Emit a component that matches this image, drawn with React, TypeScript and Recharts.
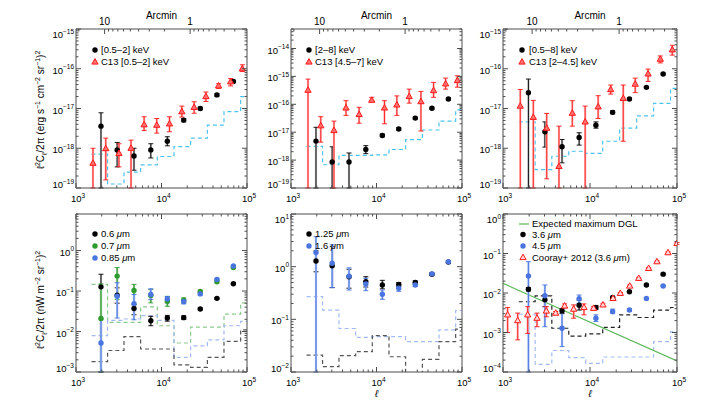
import React from 'react';
import { ComposedChart, Scatter, Line, XAxis, YAxis, ErrorBar } from 'recharts';

const FONT = '"Liberation Sans", Arial, Helvetica, sans-serif';
const FRAME = '#4d4d4d';
const CYAN = '#4cc3ec';
const RED = '#ff1a1a';
const PINK = '#ffb0b0';
const GREEN = '#2f9b2f';
const GREEN_LIGHT = '#8cc98c';
const BLUE = '#4a74e0';
const BLUE_LIGHT = '#a3bbf3';
const GRAY_LIGHT = '#bdbdbd';
const GRAY_DASH = '#555555';
const DGL_GREEN = '#5cb85c';

// ---------- multipole bins ----------
const ELL_BIN = [1960, 3030, 4770, 7500, 11700, 18200, 28400, 44500, 69300];
const ELL_C13 = [1580, 2230, 3180, 4400, 6260, 8800, 12400, 17300, 24100, 33100, 46500, 64300, 88300];
const ELL_COORAY = [1130, 1475, 1920, 2460, 3150, 4030, 5110, 6490, 8530, 11000, 14100, 18400, 22300, 28600, 36300, 47200, 58900, 78800, 100000];
const STEP_EDGES = [1520, 2340, 3640, 5700, 8930, 14000, 21900, 34400, 53800, 84300, 100000];
const ARCMIN_TICKS = [20, 10, 9, 8, 7, 6, 5, 4, 3, 2, 1, 0.9, 0.8, 0.7, 0.6, 0.5, 0.4, 0.3];
const ARCMIN_LABELS = [10, 1];

// ---------- panel 1: [0.5-2] keV ----------
const SOFT_VAL = [3.6e-18, 9.1e-19, 6.4e-19, 9.1e-19, 1.5e-18, 5.1e-18, 1.0e-17, 2.2e-17, 4.8e-17];
const SOFT_LO = [0, 3.4e-19, 2.8e-19, 5.7e-19, 1.15e-18, 4.6e-18, 9.3e-18, 2.05e-17, 4.5e-17];
const SOFT_HI = [7.8e-18, 1.4e-18, 1.0e-18, 1.3e-18, 1.95e-18, 5.6e-18, 1.08e-17, 2.35e-17, 5.1e-17];
const C13_SOFT_VAL = [4.2e-19, 9.8e-19, 7.4e-19, 1.0e-18, 3.9e-18, 3.8e-18, 4.1e-18, 8.3e-18, 1.07e-17, 2.0e-17, 3.7e-17, 4.7e-17, 1.0e-16];
const C13_SOFT_LO = [0, 1.6e-19, 3.4e-19, 1.0e-19, 2.8e-18, 2.4e-18, 2.6e-18, 6.1e-18, 7.6e-18, 1.5e-17, 3.2e-17, 3.7e-17, 8.5e-17];
const C13_SOFT_HI = [1.0e-18, 1.8e-18, 1.3e-18, 1.6e-18, 6.2e-18, 5.6e-18, 6.2e-18, 1.15e-17, 1.48e-17, 2.6e-17, 4.2e-17, 5.7e-17, 1.26e-16];
const SOFT_NOISE = [7.1e-19, 1.26e-19, 2.5e-19, 3.8e-19, 6.2e-19, 1.1e-18, 1.8e-18, 3.8e-18, 8.3e-18, 2.0e-17];

// ---------- panel 2: [2-8] keV ----------
const HARD_VAL = [4.8e-18, 8.5e-19, 8.5e-19, 2.4e-18, 7.6e-18, 1.3e-17, 3.2e-17, 7.2e-17, 1.55e-16];
const HARD_LO = [0, 0, 0, 1.7e-18, 6.8e-18, 1.18e-17, 2.9e-17, 6.6e-17, 1.42e-16];
const HARD_HI = [1.5e-17, 3e-18, 1.8e-18, 3.3e-18, 8.6e-18, 1.45e-17, 3.5e-17, 7.9e-17, 1.7e-16];
const C13_HARD_VAL = [3.2e-16, 1.7e-17, 1.15e-17, 7.4e-17, 4.3e-17, 1.4e-16, 7.4e-17, 9.5e-17, 1.9e-16, 1.25e-16, 3.1e-16, 5.4e-16, 7.1e-16];
const C13_HARD_LO = [0, 4.4e-18, 0, 4e-17, 2.1e-17, 1.24e-16, 2e-17, 4e-17, 1.1e-16, 1.1e-17, 1.78e-16, 3.5e-16, 4.1e-16];
const C13_HARD_HI = [8e-16, 3.6e-17, 2.5e-17, 1.35e-16, 7.8e-17, 1.78e-16, 1.35e-16, 2.0e-16, 3.5e-16, 2.9e-16, 6.1e-16, 8.7e-16, 1.05e-15];
const HARD_NOISE = [3.1e-18, 6.8e-19, 1.48e-18, 1.48e-18, 1.55e-18, 2.4e-18, 5.4e-18, 1.2e-17, 2.5e-17, 6.3e-17];

// ---------- panel 3: [0.5-8] keV ----------
const BROAD_VAL = [2.5e-17, 2.6e-18, 1.09e-18, 1.87e-18, 3.8e-18, 8.0e-18, 1.74e-17, 3.4e-17, 7.4e-17];
const BROAD_LO = [0, 1.07e-18, 4.3e-19, 1.2e-18, 3.2e-18, 7.3e-18, 1.63e-17, 3.2e-17, 7.0e-17];
const BROAD_HI = [5.5e-17, 4.6e-18, 1.66e-18, 2.45e-18, 4.6e-18, 8.8e-18, 1.86e-17, 3.6e-17, 7.8e-17];
const C13_MID_VAL = [1.15e-17, 6e-18, 3.2e-18, 3.5e-19, 7.6e-18, 4.6e-18, 1.1e-17, 3.0e-17, 1.8e-17, 4.1e-17, 7.4e-17, 1.74e-16, 3.0e-16];
const C13_MID_LO = [0, 0, 1.7e-19, 0, 3.6e-18, 0, 5.6e-18, 2.3e-17, 1.5e-18, 2.5e-17, 4.8e-17, 1.4e-16, 2.2e-16];
const C13_MID_HI = [3e-17, 1.6e-17, 7.5e-18, 3.6e-18, 1.57e-17, 1.15e-17, 2.1e-17, 3.9e-17, 3.9e-17, 5.8e-17, 9.8e-17, 2.1e-16, 3.9e-16];
const BROAD_NOISE = [4.6e-18, 2.9e-19, 6.3e-19, 8.4e-19, 7.4e-19, 1.5e-18, 3.2e-18, 6.5e-18, 1.35e-17, 3.2e-17];

// ---------- panel 4: optical ----------
const OPT06_VAL = [0.127, 0.079, 0.037, 0.0185, 0.0216, 0.022, 0.036, 0.066, 0.151];
const OPT06_LO = [0, 0.05, 0.026, 0.0139, 0.018, 0.02, 0.034, 0.063, 0.145];
const OPT06_HI = [0.26, 0.12, 0.046, 0.0237, 0.025, 0.0245, 0.038, 0.069, 0.157];
const OPT07_VAL = [0.021, 0.234, 0.103, 0.078, 0.056, 0.059, 0.097, 0.17, 0.38];
const OPT07_LO = [0, 0.062, 0.046, 0.051, 0.042, 0.05, 0.09, 0.16, 0.36];
const OPT07_HI = [0.15, 0.38, 0.146, 0.109, 0.074, 0.068, 0.104, 0.18, 0.4];
const OPT085_VAL = [0.0052, 0.0745, 0.049, 0.082, 0.064, 0.055, 0.085, 0.194, 0.414];
const OPT085_LO = [0, 0.0215, 0.0195, 0.0615, 0.051, 0.048, 0.079, 0.185, 0.4];
const OPT085_HI = [0.0195, 0.16, 0.082, 0.114, 0.073, 0.062, 0.091, 0.203, 0.43];
const OPT06_NOISE = [0.0018, 0.0034, 0.0075, 0.0037, 0.0037, 0.0015, 0.0013, 0.0023, 0.0057, 0.011];
const OPT07_NOISE = [0.146, 0.0168, 0.0168, 0.0406, 0.0139, 0.0052, 0.0129, 0.0129, 0.027, 0.051];
const OPT085_NOISE = [0.0079, 0.0188, 0.0204, 0.0247, 0.0188, 0.0023, 0.0044, 0.0062, 0.0139, 0.0178];

// ---------- panel 5: near-IR ----------
const NIR125_VAL = [1.28, 1.04, 0.645, 0.52, 0.45, 0.46, 0.5, 0.72, 1.22];
const NIR125_LO = [0.8, 0.4, 0.39, 0.41, 0.38, 0.42, 0.46, 0.69, 1.17];
const NIR125_HI = [2.0, 2.4, 0.89, 0.645, 0.55, 0.5, 0.54, 0.76, 1.28];
const NIR16_VAL = [1.85, 1.16, 0.66, 0.47, 0.3, 0.39, 0.45, 0.73, 1.24];
const NIR16_LO = [0, 0.4, 0.36, 0.35, 0.24, 0.34, 0.42, 0.7, 1.2];
const NIR16_HI = [3.7, 2.6, 0.95, 0.6, 0.36, 0.45, 0.49, 0.76, 1.28];
const NIR125_NOISE = [0.021, 0.0126, 0.0204, 0.0243, 0.049, 0.0195, 0.005, 0.0174, 0.0377, 0.065];
const NIR16_NOISE = [0.27, 0.15, 0.067, 0.0455, 0.047, 0.047, 0.0377, 0.0377, 0.063, 0.147];

// ---------- panel 6: IRAC ----------
const IRAC36_VAL = [0.0124, 0.0067, 0.0035, 0.0049, 0.0043, 0.0077, 0.0108, 0.016, 0.030];
const IRAC36_LO = [0.0112, 0.0045, 0.003, 0.0037, 0.0038, 0.0072, 0.0102, 0.0152, 0.0287];
const IRAC36_HI = [0.0137, 0.0089, 0.004, 0.0066, 0.0048, 0.0082, 0.0114, 0.0168, 0.0315];
const IRAC45_VAL = [0.027, 0.0085, 0.00128, 0.0072, 0.0023, 0.0034, 0.0037, 0.0073, 0.015];
const IRAC45_LO = [0, 0.0014, 0.00044, 0.0055, 0.0019, 0.003, 0.0034, 0.007, 0.0145];
const IRAC45_HI = [0.062, 0.016, 0.0037, 0.0089, 0.0028, 0.0039, 0.004, 0.0076, 0.0155];
const COORAY_VAL = [0.0028, 0.002, 0.0028, 0.0023, 0.0035, 0.0031, 0.0047, 0.0039, 0.0043, 0.0041, 0.005, 0.0073, 0.0098, 0.015, 0.0235, 0.042, 0.062, 0.105, 0.18];
const COORAY_LO = [0.001, 0.00065, 0.00095, 0.0014, 0.0025, 0.0028, 0.0042, 0.0023, 0.0028, 0.0037, 0.0046, 0.0069, 0.0093, 0.0143, 0.0224, 0.04, 0.059, 0.1, 0.17];
const COORAY_HI = [0.0043, 0.0031, 0.0045, 0.0031, 0.0045, 0.0034, 0.0053, 0.005, 0.0053, 0.0045, 0.0055, 0.0077, 0.0103, 0.0158, 0.0246, 0.044, 0.065, 0.11, 0.19];
const DGL_ELL = [1000, 100000];
const DGL_VAL = [0.0176, 0.00019];
const IRAC36_NOISE = [0.006, 0.0085, 0.00128, 0.00081, 0.00092, 0.00135, 0.0028, 0.0024, 0.0037, 0.0043];
const IRAC45_NOISE = [0.0029, 0.000156, 0.00035, 0.00023, 0.000165, 0.00024, 0.00024, 0.00024, 0.00059, 0.00105];

// ---------- helpers ----------
function pts(ell: number[], val: number[], lo: number[], hi: number[], dmin: number) {
  return ell.map((x, i) => {
    const y = val[i];
    const l = Math.max(lo[i], dmin);
    return { x, y, e: [Math.max(y - l, 0), Math.max(hi[i] - y, 0)] };
  });
}
function steps(vals: number[]) {
  return STEP_EDGES.map((x, i) => ({ x, y: vals[Math.min(i, vals.length - 1)] }));
}
function line(ell: number[], vals: number[]) {
  return ell.map((x, i) => ({ x, y: vals[i] }));
}
function logTicks(min: number, max: number) {
  const out: number[] = [];
  const k0 = Math.floor(Math.log10(min) + 1e-9);
  const k1 = Math.ceil(Math.log10(max) - 1e-9);
  for (let k = k0; k <= k1; k++) {
    for (let m = 1; m <= 9; m++) {
      const v = Number(`${m}e${k}`);
      if (v >= min * (1 - 1e-9) && v <= max * (1 + 1e-9)) out.push(v);
    }
  }
  return out;
}
function isPow10(v: number) {
  const l = Math.log10(v);
  return Math.abs(l - Math.round(l)) < 1e-6;
}
function expStr(v: number) {
  const k = Math.round(Math.log10(v));
  return k < 0 ? '\u2212' + Math.abs(k) : String(k);
}

const dotShape = (color: string, r = 2.7) => (p: any) =>
  p.cx == null ? <g /> : <circle cx={p.cx} cy={p.cy} r={r} fill={color} />;
const triPath = (cx: number, cy: number, s = 3.4) =>
  `M${cx},${cy - s} L${cx + s * 0.92},${cy + s * 0.62} L${cx - s * 0.92},${cy + s * 0.62} Z`;
const triShape = (stroke: string, fill: string) => (p: any) =>
  p.cx == null ? <g /> : <path d={triPath(p.cx, p.cy)} fill={fill} stroke={stroke} strokeWidth={1} />;

function stepLine(key: string, vals: number[], color: string) {
  return (
    <Line
      key={key}
      data={steps(vals)}
      dataKey="y"
      type="stepAfter"
      stroke={color}
      strokeWidth={1.2}
      strokeDasharray="4 3"
      dot={false}
      activeDot={false}
      isAnimationActive={false}
      xAxisId="b"
      yAxisId="l"
    />
  );
}
function pointSeries(key: string, data: any[], shape: any, dark: string, light: string) {
  return (
    <Scatter key={key} data={data} xAxisId="b" yAxisId="l" shape={shape} isAnimationActive={false}>
      <ErrorBar dataKey="e" direction="y" width={0} stroke={light} strokeWidth={2.2} />
      <ErrorBar dataKey="e" direction="y" width={2.5} stroke={dark} strokeWidth={0.9} />
    </Scatter>
  );
}

const L = 62, R = 16, T = 26, B = 28;
const X_TICKS = logTicks(1e3, 1e5);

function Panel(props: {
  left: number; top: number; pw: number; ph: number; yMin: number; yMax: number;
  topAxis: 'arcmin' | 'mirror'; children: React.ReactNode;
}) {
  const { left, top, pw, ph, yMin, yMax, topAxis, children } = props;
  const W = L + pw + R, H = T + ph + B;
  const pL = L, pR = L + pw, pT = T, pB = T + ph;
  const yTicks = logTicks(yMin, yMax);
  const topTicks = topAxis === 'arcmin' ? ARCMIN_TICKS.map((t) => 21600 / t) : X_TICKS;

  const tickB = (p: any) => {
    const x = p.x; const v = p.payload.value; const maj = isPow10(v);
    return (
      <g>
        <line x1={x} x2={x} y1={pB} y2={pB - (maj ? 5 : 2.5)} stroke={FRAME} />
        {maj && (
          <text x={x - 5} y={pB + 14} fontSize={9.5} fill="#000" fontFamily={FONT}>
            10<tspan dy={-4.5} fontSize={6.5}>{expStr(v)}</tspan>
          </text>
        )}
      </g>
    );
  };
  const tickT = (p: any) => {
    const x = p.x; const v = p.payload.value;
    let maj = isPow10(v);
    let label: string | null = null;
    if (topAxis === 'arcmin') {
      const th = 21600 / v;
      maj = ARCMIN_LABELS.some((a) => Math.abs(a - th) < 1e-6);
      if (maj) label = String(Math.round(th));
    }
    return (
      <g>
        <line x1={x} x2={x} y1={pT} y2={pT + (maj ? 5 : 2.5)} stroke={FRAME} />
        {label && (
          <text x={x} y={pT - 4} textAnchor="middle" fontSize={10} fill="#000" fontFamily={FONT}>{label}</text>
        )}
      </g>
    );
  };
  const tickL = (p: any) => {
    const y = p.y; const v = p.payload.value; const maj = isPow10(v);
    const by = Math.min(Math.max(y + 5, pT + 9), pB);
    return (
      <g>
        <line x1={pL} x2={pL + (maj ? 5 : 2.5)} y1={y} y2={y} stroke={FRAME} />
        {maj && (
          <text x={pL - 2} y={by} textAnchor="end" fontSize={9.5} fill="#000" fontFamily={FONT}>
            10<tspan dy={-4.5} fontSize={6.5}>{expStr(v)}</tspan>
          </text>
        )}
      </g>
    );
  };
  const tickR = (p: any) => {
    const y = p.y; const v = p.payload.value; const maj = isPow10(v);
    return <line x1={pR} x2={pR - (maj ? 5 : 2.5)} y1={y} y2={y} stroke={FRAME} />;
  };

  return (
    <div style={{ position: 'absolute', left: left - L, top: top - T, width: W, height: H }}>
      <ComposedChart width={W} height={H} margin={{ top: 0, right: 0, bottom: 0, left: 0 }}>
        <XAxis xAxisId="b" type="number" dataKey="x" scale="log" domain={[1e3, 1e5]} allowDataOverflow
          ticks={X_TICKS} interval={0} tick={tickB} tickLine={false} axisLine={{ stroke: FRAME }} height={B} />
        <XAxis xAxisId="t" orientation="top" type="number" dataKey="x" scale="log" domain={[1e3, 1e5]} allowDataOverflow
          ticks={topTicks} interval={0} tick={tickT} tickLine={false} axisLine={{ stroke: FRAME }} height={T} />
        <YAxis yAxisId="l" type="number" dataKey="y" scale="log" domain={[yMin, yMax]} allowDataOverflow
          ticks={yTicks} interval={0} tick={tickL} tickLine={false} axisLine={{ stroke: FRAME }} width={L} />
        <YAxis yAxisId="r" orientation="right" type="number" dataKey="y" scale="log" domain={[yMin, yMax]} allowDataOverflow
          ticks={yTicks} interval={0} tick={tickR} tickLine={false} axisLine={{ stroke: FRAME }} width={R} />
        {children}
      </ComposedChart>
    </div>
  );
}

type Part = [string, 'n' | 'sup' | 'sub'];
function rich(parts: Part[], fs: number) {
  let cur = 0;
  return parts.map(([t, k], i) => {
    const target = k === 'sup' ? -0.42 * fs : k === 'sub' ? 0.28 * fs : 0;
    const dy = target - cur;
    cur = target;
    return (
      <tspan key={i} dy={dy} fontSize={k === 'n' ? fs : fs * 0.7}>{t}</tspan>
    );
  });
}

const Y_LABEL_TOP: Part[] = [
  ['\u2113', 'n'], ['2', 'sup'], ['C', 'n'], ['\u2113', 'sub'], ['/2\u03c0  (erg s', 'n'], ['\u22121', 'sup'],
  [' cm', 'n'], ['\u22122', 'sup'], [' sr', 'n'], ['\u22121', 'sup'], [')', 'n'], ['2', 'sup'],
];
const Y_LABEL_BOTTOM: Part[] = [
  ['\u2113', 'n'], ['2', 'sup'], ['C', 'n'], ['\u2113', 'sub'], ['/2\u03c0  (nW m', 'n'], ['\u22122', 'sup'],
  [' sr', 'n'], ['\u22121', 'sup'], [')', 'n'], ['2', 'sup'],
];

function LegDot({ x, y, c }: { x: number; y: number; c: string }) {
  return <circle cx={x} cy={y} r={2.7} fill={c} />;
}
function LegTri({ x, y, fill }: { x: number; y: number; fill: string }) {
  return <path d={triPath(x, y)} fill={fill} stroke={RED} strokeWidth={1} />;
}
function LegText({ x, y, children }: { x: number; y: number; children: React.ReactNode }) {
  return <text x={x} y={y + 3.3} fontSize={9.5} fill="#000" fontFamily={FONT}>{children}</text>;
}
const mu = <tspan fontStyle="italic">{'\u03bc'}</tspan>;

function Overlay() {
  return (
    <svg width={714} height={420} style={{ position: 'absolute', left: 0, top: 0, pointerEvents: 'none' }} fontFamily={FONT}>
      <text transform="translate(44,110) rotate(-90)" textAnchor="middle" fontSize={10} fill="#000">{rich(Y_LABEL_TOP, 10)}</text>
      <text transform="translate(44,300) rotate(-90)" textAnchor="middle" fontSize={10} fill="#000">{rich(Y_LABEL_BOTTOM, 10)}</text>
      <text x={161.5} y={18.5} textAnchor="middle" fontSize={10} fill="#000">Arcmin</text>
      <text x={376.5} y={18.5} textAnchor="middle" fontSize={10} fill="#000">Arcmin</text>
      <text x={590} y={18.5} textAnchor="middle" fontSize={10} fill="#000">Arcmin</text>
      <text x={376.5} y={397} textAnchor="middle" fontSize={10} fontStyle="italic" fill="#000">{'\u2113'}</text>
      <text x={590} y={397} textAnchor="middle" fontSize={10} fontStyle="italic" fill="#000">{'\u2113'}</text>

      {/* panel 1 legend */}
      <LegDot x={95} y={50} c="#000" />
      <LegText x={101} y={50}>[0.5–2] keV</LegText>
      <LegTri x={95} y={62} fill="#ff7070" />
      <LegText x={101} y={62}>C13 [0.5–2] keV</LegText>
      {/* panel 2 legend */}
      <LegDot x={309} y={50} c="#000" />
      <LegText x={315} y={50}>[2–8] keV</LegText>
      <LegTri x={309} y={62} fill="#ff7070" />
      <LegText x={315} y={62}>C13 [4.5–7] keV</LegText>
      {/* panel 3 legend */}
      <LegDot x={522} y={50} c="#000" />
      <LegText x={529} y={50}>[0.5–8] keV</LegText>
      <LegTri x={522} y={62} fill="#ff7070" />
      <LegText x={529} y={62}>C13 [2–4.5] keV</LegText>
      {/* panel 4 legend */}
      <LegDot x={95} y={234} c="#000" />
      <LegText x={101} y={234}>0.6 {mu}m</LegText>
      <LegDot x={95} y={246} c={GREEN} />
      <LegText x={101} y={246}>0.7 {mu}m</LegText>
      <LegDot x={95} y={258} c={BLUE} />
      <LegText x={101} y={258}>0.85 {mu}m</LegText>
      {/* panel 5 legend */}
      <LegDot x={309} y={234} c="#000" />
      <LegText x={315} y={234}>1.25 {mu}m</LegText>
      <LegDot x={309} y={246} c={BLUE} />
      <LegText x={315} y={246}>1.6 {mu}m</LegText>
      {/* panel 6 legend */}
      <line x1={519} x2={529} y1={224} y2={224} stroke={DGL_GREEN} strokeWidth={1.2} />
      <LegText x={532} y={224}>Expected maximum DGL</LegText>
      <LegDot x={523} y={234.5} c="#000" />
      <LegText x={532} y={234.5}>3.6 {mu}m</LegText>
      <LegDot x={523} y={246} c={BLUE} />
      <LegText x={532} y={246}>4.5 {mu}m</LegText>
      <LegTri x={523} y={257.5} fill="#ffd6d6" />
      <LegText x={532} y={257.5}>Cooray+ 2012 (3.6 {mu}m)</LegText>
    </svg>
  );
}

export default function App() {
  return (
    <div style={{ position: 'absolute', left: 0, top: 0, width: 714, height: 420, background: '#fff', fontFamily: FONT }}>
      <Panel left={76} top={29} pw={171} ph={159} yMin={1e-19} yMax={1e-15} topAxis="arcmin">
        {stepLine('n1', SOFT_NOISE, CYAN)}
        {pointSeries('s1', pts(ELL_BIN, SOFT_VAL, SOFT_LO, SOFT_HI, 1e-19), dotShape('#000'), '#000', GRAY_LIGHT)}
        {pointSeries('c1', pts(ELL_C13, C13_SOFT_VAL, C13_SOFT_LO, C13_SOFT_HI, 1e-19), triShape(RED, '#ff7070'), RED, PINK)}
      </Panel>
      <Panel left={291} top={29} pw={171} ph={159} yMin={1e-19} yMax={5e-14} topAxis="arcmin">
        {stepLine('n2', HARD_NOISE, CYAN)}
        {pointSeries('s2', pts(ELL_BIN, HARD_VAL, HARD_LO, HARD_HI, 1e-19), dotShape('#000'), '#000', GRAY_LIGHT)}
        {pointSeries('c2', pts(ELL_C13, C13_HARD_VAL, C13_HARD_LO, C13_HARD_HI, 1e-19), triShape(RED, '#ff7070'), RED, PINK)}
      </Panel>
      <Panel left={503} top={29} pw={174} ph={159} yMin={1e-19} yMax={1e-15} topAxis="arcmin">
        {stepLine('n3', BROAD_NOISE, CYAN)}
        {pointSeries('s3', pts(ELL_BIN, BROAD_VAL, BROAD_LO, BROAD_HI, 1e-19), dotShape('#000'), '#000', GRAY_LIGHT)}
        {pointSeries('c3', pts(ELL_C13, C13_MID_VAL, C13_MID_LO, C13_MID_HI, 1e-19), triShape(RED, '#ff7070'), RED, PINK)}
      </Panel>
      <Panel left={76} top={214} pw={171} ph={158} yMin={1e-3} yMax={8} topAxis="mirror">
        {stepLine('n4a', OPT07_NOISE, GREEN_LIGHT)}
        {stepLine('n4b', OPT085_NOISE, BLUE_LIGHT)}
        {stepLine('n4c', OPT06_NOISE, GRAY_DASH)}
        {pointSeries('s4a', pts(ELL_BIN, OPT06_VAL, OPT06_LO, OPT06_HI, 1e-3), dotShape('#000'), '#000', GRAY_LIGHT)}
        {pointSeries('s4b', pts(ELL_BIN, OPT07_VAL, OPT07_LO, OPT07_HI, 1e-3), dotShape(GREEN), GREEN, GREEN_LIGHT)}
        {pointSeries('s4c', pts(ELL_BIN, OPT085_VAL, OPT085_LO, OPT085_HI, 1e-3), dotShape(BLUE), BLUE, BLUE_LIGHT)}
      </Panel>
      <Panel left={291} top={214} pw={171} ph={158} yMin={1e-2} yMax={10} topAxis="mirror">
        {stepLine('n5a', NIR16_NOISE, BLUE_LIGHT)}
        {stepLine('n5b', NIR125_NOISE, GRAY_DASH)}
        {pointSeries('s5a', pts(ELL_BIN, NIR125_VAL, NIR125_LO, NIR125_HI, 1e-2), dotShape('#000'), '#000', GRAY_LIGHT)}
        {pointSeries('s5b', pts(ELL_BIN, NIR16_VAL, NIR16_LO, NIR16_HI, 1e-2), dotShape(BLUE), BLUE, BLUE_LIGHT)}
      </Panel>
      <Panel left={503} top={214} pw={174} ph={158} yMin={1e-4} yMax={1} topAxis="mirror">
        {stepLine('n6a', IRAC45_NOISE, BLUE_LIGHT)}
        {stepLine('n6b', IRAC36_NOISE, '#222222')}
        <Line key="dgl" data={line(DGL_ELL, DGL_VAL)} dataKey="y" type="linear" stroke={DGL_GREEN} strokeWidth={1.2}
          dot={false} activeDot={false} isAnimationActive={false} xAxisId="b" yAxisId="l" />
        {pointSeries('s6a', pts(ELL_BIN, IRAC36_VAL, IRAC36_LO, IRAC36_HI, 1e-4), dotShape('#000'), '#000', GRAY_LIGHT)}
        {pointSeries('s6b', pts(ELL_BIN, IRAC45_VAL, IRAC45_LO, IRAC45_HI, 1e-4), dotShape(BLUE), BLUE, BLUE_LIGHT)}
        {pointSeries('s6c', pts(ELL_COORAY, COORAY_VAL, COORAY_LO, COORAY_HI, 1e-4), triShape(RED, '#ffd6d6'), RED, PINK)}
      </Panel>
      <Overlay />
    </div>
  );
}
